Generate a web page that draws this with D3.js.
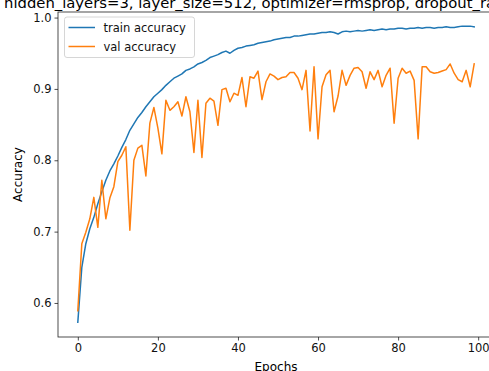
<!DOCTYPE html>
<html><head><meta charset="utf-8">
<script src="https://cdn.jsdelivr.net/npm/d3@7"></script>
<style>html,body{margin:0;padding:0;background:#fff;overflow:hidden}svg{display:block;font-family:"DejaVu Sans",sans-serif}</style>
</head><body>
<svg id="c" width="489" height="371"></svg>
<script>
const titleText = "hidden_layers=3, layer_size=512, optimizer=rmsprop, dropout_rate=0.5";
const xTicks = [0, 20, 40, 60, 80, 100];
const yTicks = [0.6, 0.7, 0.8, 0.9, 1.0];
const seriesNames = ["train accuracy", "val accuracy"];
const trainAcc = [0.573,0.650,0.683,0.704,0.720,0.739,0.756,0.772,0.785,0.795,
0.806,0.818,0.829,0.842,0.851,0.860,0.867,0.875,0.882,0.889,
0.894,0.899,0.905,0.910,0.915,0.918,0.921,0.926,0.928,0.931,
0.935,0.937,0.940,0.944,0.946,0.948,0.951,0.953,0.950,0.954,
0.957,0.958,0.960,0.961,0.962,0.964,0.965,0.966,0.967,0.969,
0.970,0.971,0.972,0.972,0.974,0.974,0.975,0.976,0.977,0.977,
0.978,0.979,0.979,0.980,0.979,0.977,0.980,0.981,0.980,0.981,
0.982,0.981,0.982,0.983,0.982,0.983,0.984,0.983,0.984,0.984,
0.985,0.985,0.984,0.985,0.985,0.986,0.985,0.986,0.986,0.985,
0.986,0.986,0.987,0.986,0.986,0.987,0.988,0.988,0.988,0.987];
const valAcc = [0.589,0.683,0.699,0.718,0.748,0.706,0.772,0.718,0.747,0.763,
0.798,0.807,0.819,0.702,0.800,0.817,0.821,0.778,0.852,0.874,
0.845,0.809,0.884,0.870,0.875,0.882,0.862,0.889,0.868,0.811,
0.884,0.804,0.880,0.887,0.883,0.849,0.899,0.901,0.882,0.894,
0.891,0.916,0.875,0.917,0.915,0.925,0.885,0.910,0.921,0.918,
0.913,0.916,0.917,0.923,0.923,0.915,0.899,0.926,0.841,0.931,
0.830,0.903,0.920,0.926,0.868,0.890,0.926,0.905,0.919,0.929,
0.930,0.924,0.901,0.924,0.913,0.926,0.903,0.919,0.929,0.852,
0.915,0.929,0.922,0.925,0.912,0.830,0.931,0.931,0.924,0.922,
0.923,0.925,0.927,0.935,0.922,0.913,0.910,0.926,0.903,0.935];
const colors = ["#1f77b4", "#ff7f0e"];

const svg = d3.select("#c");
const L = 58, R = 494, T = 12, B = 337;
const x = d3.scaleLinear().domain([-4.95, 103.95]).range([L, R]);
const y = d3.scaleLinear().domain([0.5523, 1.0078]).range([B, T]);

// title
svg.append("text").attr("x", 4).attr("y", 7.5).attr("font-size", 14.8).attr("fill", "#000").text(titleText);

// lines
const line = d3.line().x((d, i) => x(i)).y(d => y(d));
[trainAcc, valAcc].forEach((s, k) => {
  svg.append("path").datum(s).attr("d", line).attr("fill", "none")
    .attr("stroke", colors[k]).attr("stroke-width", 1.5).attr("stroke-linejoin", "round").attr("stroke-linecap", "square");
});

// axes
const xAxis = d3.axisBottom(x).tickValues(xTicks).tickSize(3.5).tickPadding(3).tickFormat(d3.format("d"));
const yAxis = d3.axisLeft(y).tickValues(yTicks).tickSize(3.5).tickPadding(3).tickFormat(d3.format(".1f"));
const gx = svg.append("g").attr("transform", `translate(0,${B})`).call(xAxis);
const gy = svg.append("g").attr("transform", `translate(${L},0)`).call(yAxis);
[gx, gy].forEach(g => {
  g.select(".domain").remove();
  g.selectAll("line").attr("stroke", "#222").attr("stroke-width", 0.8);
  g.selectAll("text").attr("font-size", 11.5).attr("fill", "#111").attr("font-family", "DejaVu Sans");
});
// frame
svg.append("rect").attr("x", L).attr("y", T).attr("width", R - L).attr("height", B - T)
  .attr("fill", "none").attr("stroke", "#222").attr("stroke-width", 0.8);

// axis labels
svg.append("text").attr("x", (L + R) / 2).attr("y", 371).attr("text-anchor", "middle").attr("font-size", 12).text("Epochs");
svg.append("text").attr("transform", `translate(22,${(T + B) / 2}) rotate(-90)`).attr("text-anchor", "middle").attr("font-size", 12).text("Accuracy");

// legend
const lg = svg.append("g");
lg.append("rect").attr("x", 64.5).attr("y", 17).attr("width", 130).attr("height", 40.5).attr("rx", 2.5)
  .attr("fill", "#fff").attr("fill-opacity", 0.8).attr("stroke", "#ccc").attr("stroke-width", 0.8);
seriesNames.forEach((n, k) => {
  const yy = 27.5 + k * 19;
  lg.append("line").attr("x1", 68.5).attr("x2", 95).attr("y1", yy).attr("y2", yy).attr("stroke", colors[k]).attr("stroke-width", 1.5);
  lg.append("text").attr("x", 103.5).attr("y", yy + 4.2).attr("font-size", 11.5).attr("fill", "#111").text(n);
});
</script>
</body></html>
